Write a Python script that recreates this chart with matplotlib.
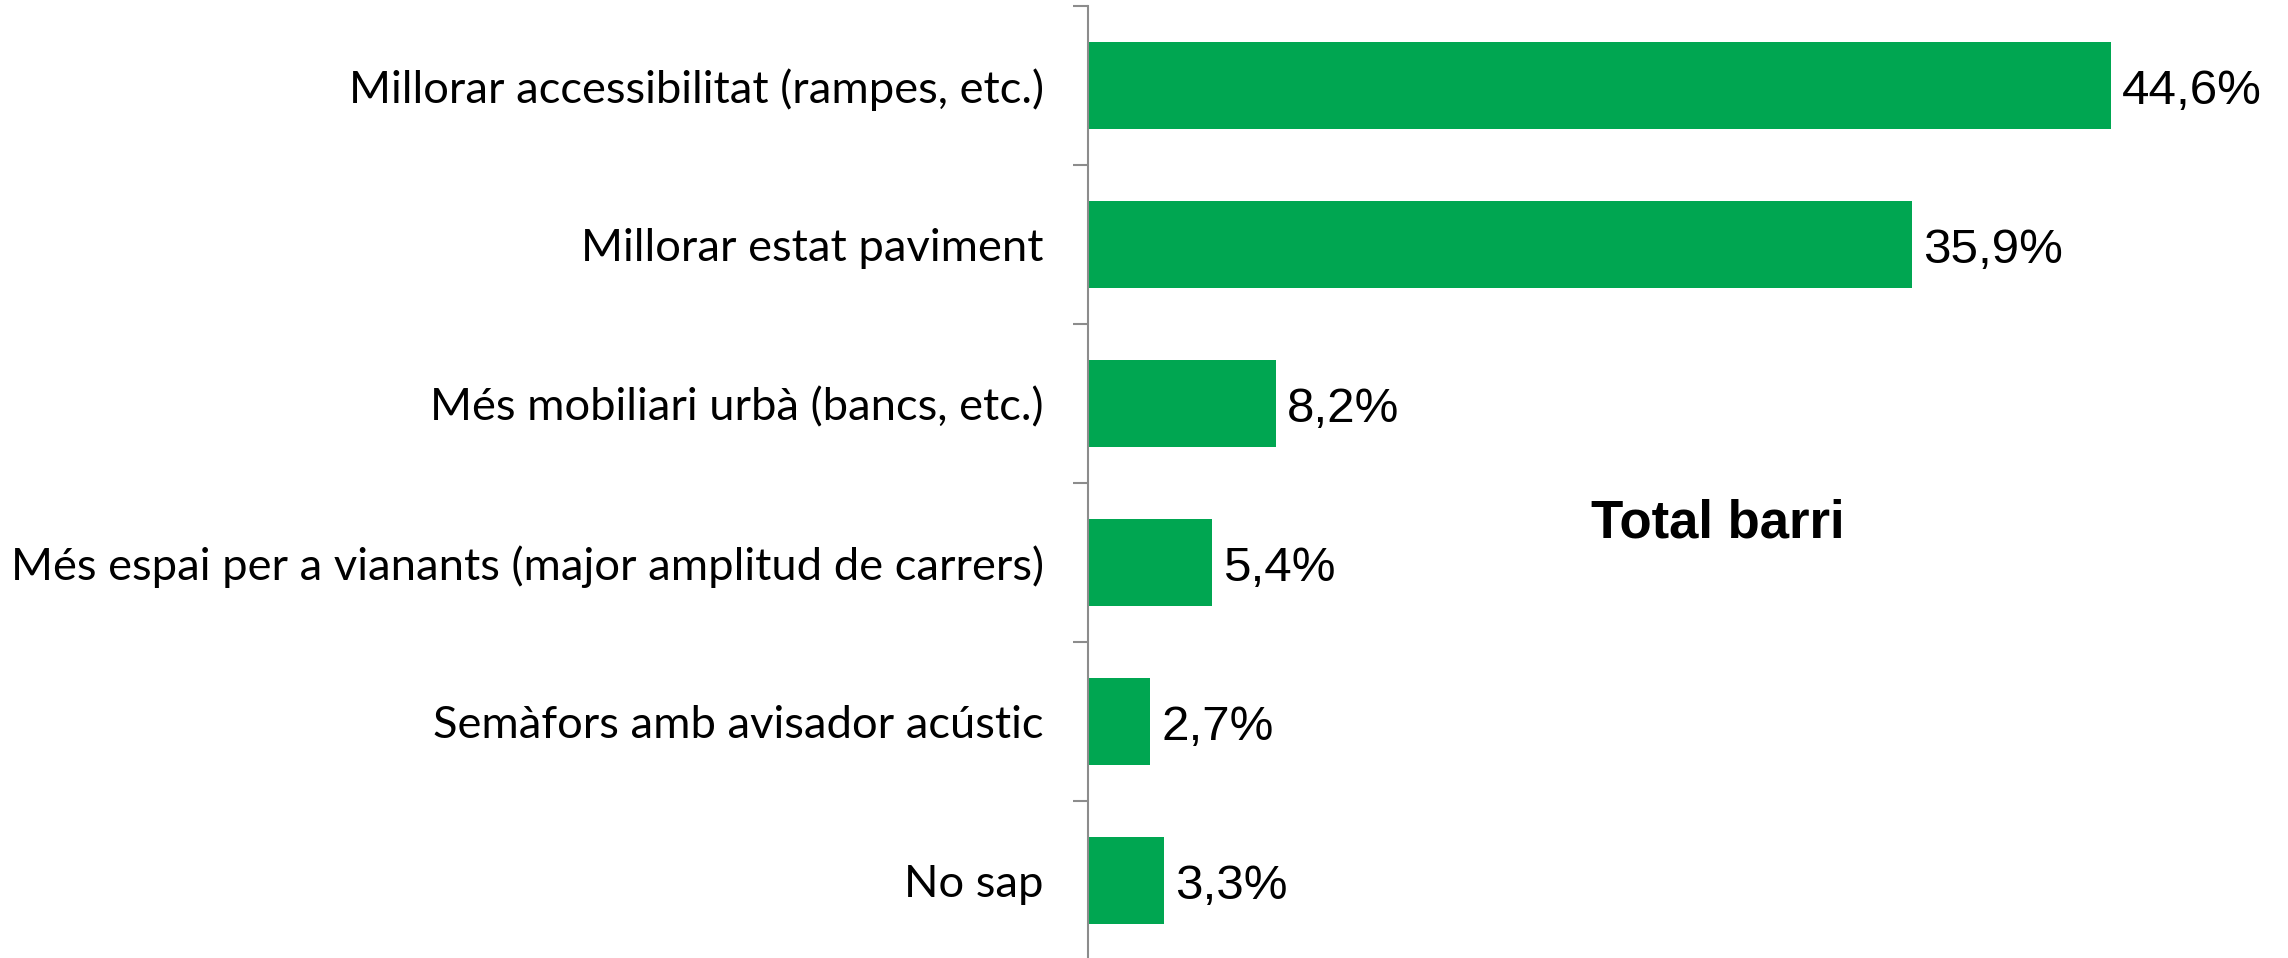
import numpy as np
import matplotlib
matplotlib.use('Agg')
import matplotlib.pyplot as plt

categories = [
    'Millorar accessibilitat (rampes, etc.)',
    'Millorar estat paviment',
    'Més mobiliari urbà (bancs, etc.)',
    'Més espai per a vianants (major amplitud de carrers)',
    'Semàfors amb avisador acústic',
    'No sap',
]
values = [44.6, 35.9, 8.2, 5.4, 2.7, 3.3]
title = 'Total barri'

green = '#00A651'
gray = '#8C8C8C'

fig = plt.figure(figsize=(22.88, 9.58), dpi=100)
ax = fig.add_axes([1088/2288, -2/958, 1 - 1088/2288, 954/958])

y = np.arange(len(categories))
ax.barh(y, values, height=0.55, color=green)
ax.set_ylim(len(categories) - 0.5, -0.5)
ax.set_xlim(0, 1200/22.94)

for yi, v in zip(y, values):
    ax.annotate(('%.1f%%' % v).replace('.', ','), (v, yi), xytext=(8, -4),
                textcoords='offset points', va='center', ha='left',
                fontsize=35.5, family='Liberation Sans', color='black')

# category labels at centers, tick marks at boundaries
ax.set_yticks(y)
ax.set_yticklabels(categories, family='Lato', fontsize=32.6)
ax.tick_params(axis='y', which='major', length=0, pad=32)
ax.set_yticks(np.arange(len(categories) + 1) - 0.5, minor=True)
ax.tick_params(axis='y', which='minor', length=10.8, width=1.5, color=gray)
ax.set_xticks([])

for s in ['top', 'right', 'bottom']:
    ax.spines[s].set_visible(False)
ax.spines['left'].set_color(gray)
ax.spines['left'].set_linewidth(1.5)

fig.text(1718/2288, 1 - 523/958, title, ha='center', va='center',
         fontsize=38, fontweight='bold', family='Liberation Sans')

fig.savefig('out.png', dpi=100)
